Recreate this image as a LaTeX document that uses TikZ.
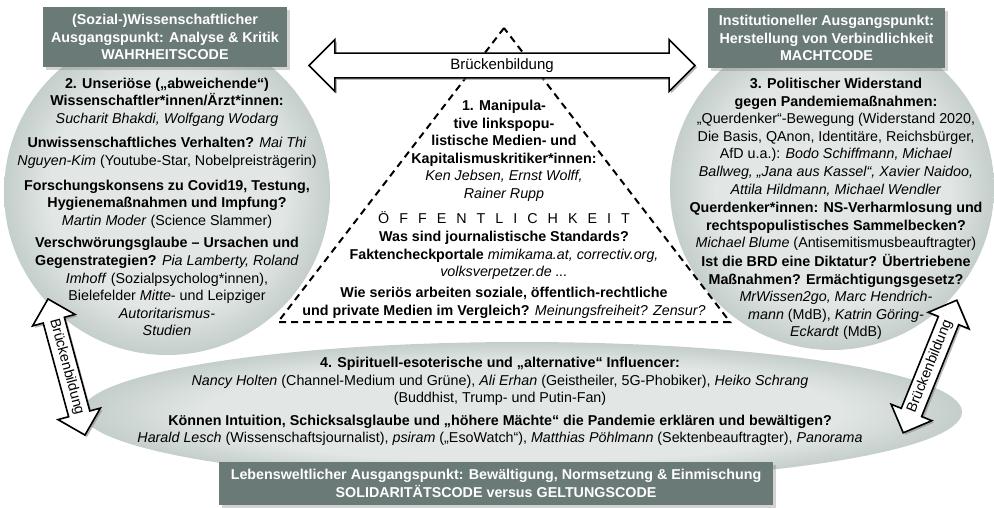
\documentclass[tikz,border=0pt]{standalone}
\usepackage{fontspec}
\setmainfont{Liberation Sans}
\usetikzlibrary{shapes.geometric,shapes.arrows,shadows}

\definecolor{titlegray}{RGB}{106,122,119}
\definecolor{bubblein}{RGB}{226,231,230}
\definecolor{bubbleout}{RGB}{196,206,203}
\pgfdeclareradialshading{bubbleshade}{\pgfpoint{0bp}{0bp}}{color(0bp)=(bubblein); color(18bp)=(bubblein); color(25bp)=(bubbleout); color(50bp)=(bubbleout)}

\newcommand{\bodyfont}{\fontsize{14.3}{17.6}\selectfont}

\begin{document}
\begin{tikzpicture}[
  x=1pt, y=1pt,
  font=\bodyfont,
  title/.style={fill=titlegray, text=white, font=\bodyfont\bfseries, align=center, inner sep=0pt, drop shadow={shadow xshift=2.5pt, shadow yshift=-2.5pt, opacity=0.35}},
  bubble/.style={circle, shading=bubbleshade, inner sep=0pt},
  info/.style={align=center, inner sep=0pt, anchor=north},
  bridge/.style={double arrow, draw=black, line width=1.6pt, fill=white, double arrow head extend=11pt, inner xsep=2pt, inner ysep=3.5pt, drop shadow={shadow xshift=2pt, shadow yshift=-2pt, opacity=0.55}},
  pyramid/.style={line width=2pt, dash pattern=on 7pt off 5pt}
]
\useasboundingbox (0,0) rectangle (994,-507);

% the three fields
\node[bubble, minimum size=326] (lcirc) at (167,-192) {};
\node[bubble, minimum size=324] (rcirc) at (832,-188) {};
\node[ellipse, shading=bubbleshade, inner sep=0pt, minimum width=880, minimum height=140] (ell) at (522,-412) {};

% public sphere
\coordinate (tapex) at (504,-28);
\coordinate (tleft) at (278,-322);
\coordinate (tright) at (730,-322);
\draw[pyramid] (tapex) -- (tleft) -- (tright) -- cycle;

\node[info] (ltext) at (167,-77.5) {\textbf{2. Unseriöse („abweichende“)}\\
  \textbf{Wissenschaftler*innen/Ärzt*innen:}\\
  \textit{Sucharit Bhakdi, Wolfgang Wodarg}\\[7pt]
  \textbf{Unwissenschaftliches Verhalten?} \textit{Mai Thi}\\
  \textit{Nguyen-Kim} (Youtube-Star, Nobelpreisträgerin)\\[7pt]
  \textbf{Forschungskonsens zu Covid19, Testung,}\\
  \textbf{Hygienemaßnahmen und Impfung?}\\
  \textit{Martin Moder} (Science Slammer)\\[5pt]
  \textbf{Verschwörungsglaube – Ursachen und}\\
  \textbf{Gegenstrategien?} \textit{Pia Lamberty, Roland}\\
  \textit{Imhoff} (Sozialpsycholog*innen),\\
  Bielefelder \textit{Mitte}- und Leipziger\\
  \textit{Autoritarismus-}\\
  \textit{Studien}};

\node[info] (rtext) at (836,-78) {\textbf{3. Politischer Widerstand}\\
  \textbf{gegen Pandemiemaßnahmen:}\\
  „Querdenker“-Bewegung (Widerstand 2020,\\
  Die Basis, QAnon, Identitäre, Reichsbürger,\\
  AfD u.a.): \textit{Bodo Schiffmann, Michael}\\
  \textit{Ballweg, „Jana aus Kassel“, Xavier Naidoo,}\\
  \textit{Attila Hildmann, Michael Wendler}\\[1pt]
  \textbf{Querdenker*innen: NS-Verharmlosung und}\\
  \textbf{rechtspopulistisches Sammelbecken?}\\
  \textit{Michael Blume} (Antisemitismusbeauftragter)\\[1pt]
  \textbf{Ist die BRD eine Diktatur? Übertriebene}\\
  \textbf{Maßnahmen? Ermächtigungsgesetz?}\\
  \textit{MrWissen2go, Marc Hendrich-}\\
  \textit{mann} (MdB), \textit{Katrin Göring-}\\
  \textit{Eckardt} (MdB)};

\node[info] (ttext) at (504,-100) {\textbf{1. Manipula-}\\
  \textbf{tive linkspopu-}\\
  \textbf{listische Medien- und}\\
  \textbf{Kapitalismuskritiker*innen:}\\
  \textit{Ken Jebsen, Ernst Wolff,}\\
  \textit{Rainer Rupp}\\[7pt]
  {\addfontfeature{LetterSpace=70}ÖFFENTLICHKEIT}\\[1pt]
  \textbf{Was sind journalistische Standards?}\\
  \textbf{Faktencheckportale} \textit{mimikama.at, correctiv.org,}\\
  \textit{volksverpetzer.de ...}\\[3pt]
  \textbf{Wie seriös arbeiten soziale, öffentlich-rechtliche}\\
  \textbf{und private Medien im Vergleich?} \textit{Meinungsfreiheit? Zensur?}};

\node[info] (etext) at (500,-357) {\textbf{4. Spirituell-esoterische und „alternative“ Influencer:}\\
  \textit{Nancy Holten} (Channel-Medium und Grüne), \textit{Ali Erhan} (Geistheiler, 5G-Phobiker), \textit{Heiko Schrang}\\
  (Buddhist, Trump- und Putin-Fan)\\[5pt]
  \textbf{Können Intuition, Schicksalsglaube und „höhere Mächte“ die Pandemie erklären und bewältigen?}\\
  \textit{Harald Lesch} (Wissenschaftsjournalist), \textit{psiram} („EsoWatch“), \textit{Matthias Pöhlmann} (Sektenbeauftragter), \textit{Panorama}};

% starting points
\node[title, minimum width=244, minimum height=60] (ltitle) at (165,-37) {(Sozial-)Wissenschaftlicher\\Ausgangspunkt: Analyse \& Kritik\\WAHRHEITSCODE};
\node[title, minimum width=237, minimum height=60] (rtitle) at (826.5,-38) {Institutioneller Ausgangspunkt:\\Herstellung von Verbindlichkeit\\MACHTCODE};
\node[title, minimum width=554, minimum height=43] (btitle) at (496,-483.5) {Lebensweltlicher Ausgangspunkt: Bewältigung, Normsetzung \& Einmischung\\SOLIDARITÄTSCODE versus GELTUNGSCODE};

% bridges
\node[bridge, font=\fontsize{15}{18}\selectfont, minimum height=386, double arrow head extend=13.5pt, inner ysep=4.6pt] (hbridge) at (502,-65.5) {Brückenbildung};
\node[bridge, minimum height=141, rotate=-74.8] (lbridge) at (66.5,-367) {Brückenbildung};
\node[bridge, minimum height=143, rotate=68] (rbridge) at (930,-366.5) {Brückenbildung};
\end{tikzpicture}
\end{document}
